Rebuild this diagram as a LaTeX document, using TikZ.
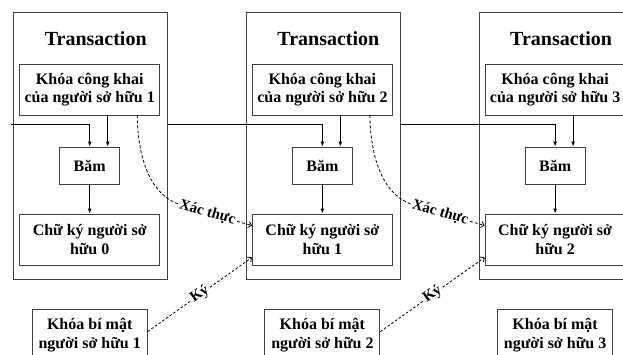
\documentclass[tikz,border=0pt]{standalone}
\usepackage{fontspec}
\setmainfont{Liberation Serif}
\usetikzlibrary{arrows.meta,calc}

\tikzset{
  boxline/.style={draw=black!75, line width=0.9pt, inner sep=0pt},
  frame/.style={boxline, minimum width=154pt, minimum height=267pt},
  keybox/.style={boxline, minimum width=140pt, minimum height=51pt, align=center,
    font=\bfseries\fontsize{16}{18.5}\selectfont},
  hashbox/.style={boxline, minimum width=60pt, minimum height=37pt,
    font=\bfseries\fontsize{16}{18.5}\selectfont},
  secretbox/.style={boxline, minimum width=115pt, minimum height=52pt, align=center,
    font=\bfseries\fontsize{16}{19.5}\selectfont},
  txtitle/.style={font=\bfseries\fontsize{20}{24}\selectfont, inner sep=0pt},
  wire/.style={line width=1pt, -{Latex[length=5pt,width=4pt]}},
  checkline/.style={line width=0.8pt, dash pattern=on 3pt off 2pt,
    -{Straight Barb[length=3pt,width=6pt]}},
  signline/.style={line width=0.8pt, dash pattern=on 2.5pt off 2pt,
    -{Straight Barb[length=3pt,width=6pt]}},
  lbl/.style={sloped, fill=white, inner sep=1pt,
    font=\bfseries\fontsize{15}{18}\selectfont}
}

\begin{document}
\begin{tikzpicture}[x=1pt, y=-1pt]
  \useasboundingbox (0,0) rectangle (623,354);
  \clip (0,0) rectangle (623,354);

  % one column per transaction
  \foreach \i/\cx/\p in {1/89.7/0, 2/322.4/1, 3/555.1/2} {
    \node[frame] (tx\i) at (\cx+1,145.5) {};
    \node[txtitle, anchor=base] (tt\i) at (\cx+6,45) {Transaction};
    \node[keybox] (pk\i) at (\cx,89.5) {Khóa công khai\\của người sở hữu \i};
    \node[hashbox] (bam\i) at (\cx,165.5) {Băm};
    \node[keybox] (ck\i) at (\cx,239.5) {Chữ ký người sở\\hữu \p};
    \node[secretbox] (sk\i) at (\cx,335) {Khóa bí mật\\người sở hữu \i};
    \draw[wire] ($(pk\i.south)+(18,0)$) -- ($(bam\i.north)+(18,0)$);
    \draw[wire] (bam\i.south) -- (ck\i.north);
  }

  % previous transaction feeding into each hash
  \coordinate (feed) at (11,124.5);
  \draw[wire] (feed) -| (bam1.north);
  \draw[wire] ($(tx1.north east)+(0,112.5)$) -| (bam2.north);
  \draw[wire] ($(tx2.north east)+(0,112.5)$) -| (bam3.north);

  % verification and signing links to the next transaction
  \foreach \i/\n in {1/2, 2/3} {
    \draw[checkline] ($(pk\i.south east)+(-23,0)$)
      .. controls +(1,50) and +(-26,-8) .. ($(ck\n.north west)+(-72,-9)$)
      -- node[lbl, pos=0.38] {Xác thực} ($(ck\n.north west)+(0,12)$);
    \draw[signline] ($(sk\i.north east)+(0,23)$)
      -- node[lbl, pos=0.5] {Ký} ($(ck\n.south west)+(0,-8)$);
  }
\end{tikzpicture}
\end{document}
